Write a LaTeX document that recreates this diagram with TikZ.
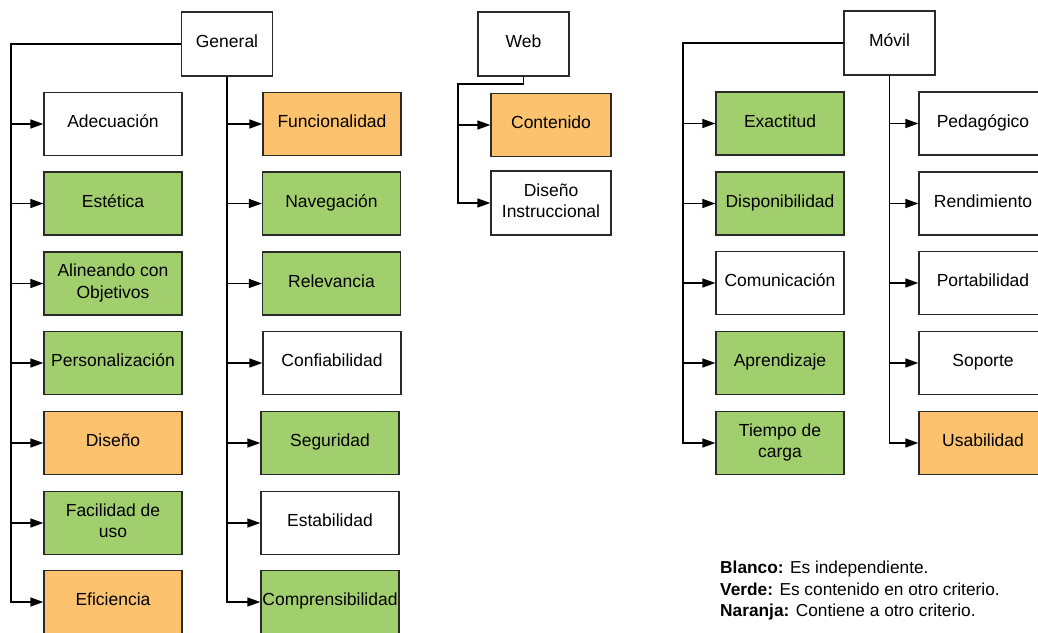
\documentclass[tikz,border=0pt]{standalone}
\usepackage{fontspec}
\setmainfont{Liberation Sans}
\usetikzlibrary{arrows.meta}

\definecolor{boxgreen}{HTML}{A2CF6E}
\definecolor{boxorange}{HTML}{FCC26E}
\definecolor{boxline}{HTML}{2A2A2A}

\tikzset{
  crit/.style={draw=boxline, line width=1.3pt, fill=white, inner sep=0pt,
    align=center, font=\fontsize{17.5}{21.5}\selectfont,
    minimum height=63pt, text depth=5pt},
  wide/.style={crit, minimum width=138pt},
  narrow/.style={crit, minimum width=128pt},
  root/.style={crit, minimum width=91pt, minimum height=64pt},
  green/.style={fill=boxgreen},
  orange/.style={fill=boxorange},
  link/.style={draw=black, line width=1.4pt,
    -{Triangle[length=13pt,width=9pt]}},
}

\begin{document}
\begin{tikzpicture}[x=1pt, y=-1pt]
\useasboundingbox (0,0) rectangle (1038,632);
\clip (0,0) rectangle (1038,632);

% ---------- General ----------
\node[root] (gen) at (227,44) {General};
\coordinate (gL) at (11,44);

\node[wide] (adec) at (113,124) {Adecuación};
\node[wide, green] (este) at (113,203.5) {Estética};
\node[wide, green] (alin) at (113,283.5) {Alineando con\\Objetivos};
\node[wide, green] (pers) at (113,363) {Personalización};
\node[wide, orange] (dise) at (113,443) {Diseño};
\node[wide, green] (faci) at (113,523) {Facilidad de\\uso};
\node[wide, orange] (efic) at (113,602) {Eficiencia};

\node[wide, orange] (func) at (332,124) {Funcionalidad};
\node[wide, green] (nave) at (331.5,203.5) {Navegación};
\node[wide, green] (rele) at (331.5,283.5) {Relevancia};
\node[wide] (conf) at (332,363) {Confiabilidad};
\node[wide, green] (segu) at (330,443) {Seguridad};
\node[wide] (esta) at (330,523) {Estabilidad};
\node[wide, green] (comp) at (330,602) {Comprensibilidad};

\foreach \c in {adec,este,alin,pers,dise,faci,efic}
  \draw[link] (gen.west) -- (gL) |- (\c.west);
\foreach \c in {func,nave,rele,conf,segu,esta,comp}
  \draw[link] (gen.south) |- (\c.west);

% ---------- Web ----------
\node[root] (web) at (523.5,44) {Web};
\coordinate (wA) at (523.5,84);
\coordinate (wB) at (458,84);
\node[crit, minimum width=120pt, orange] (cont) at (551,125) {Contenido};
\node[crit, minimum width=120pt, minimum height=64pt] (dins) at (551,203) {Diseño\\Instruccional};
\foreach \c in {cont,dins}
  \draw[link] (web.south) -- (wA) -- (wB) |- (\c.west);

% ---------- Móvil ----------
\node[root] (mov) at (889.5,43) {Móvil};
\coordinate (mL) at (683,43);

\node[narrow, green] (exac) at (780,123.5) {Exactitud};
\node[narrow, green] (disp) at (780,203.5) {Disponibilidad};
\node[narrow] (comu) at (780,283) {Comunicación};
\node[narrow, green] (apre) at (780,363) {Aprendizaje};
\node[narrow, green] (tiem) at (780,443) {Tiempo de\\carga};

\node[narrow] (peda) at (983,123.5) {Pedagógico};
\node[narrow] (rend) at (983,203.5) {Rendimiento};
\node[narrow] (port) at (983,283) {Portabilidad};
\node[narrow] (sopo) at (983,363) {Soporte};
\node[narrow, orange] (usab) at (983,443) {Usabilidad};

\foreach \c in {exac,disp,comu,apre,tiem}
  \draw[link] (mov.west) -- (mL) |- (\c.west);
\foreach \c in {peda,rend,port,sopo,usab}
  \draw[link] (mov.south) |- (\c.west);

% ---------- Legend ----------
\node[anchor=north west, align=left, inner sep=0pt,
  font=\fontsize{17.3}{21.5}\selectfont] (legend) at (720,561)
  {\textbf{Blanco:} Es independiente.\\
   \textbf{Verde:} Es contenido en otro criterio.\\
   \textbf{Naranja:} Contiene a otro criterio.};
\end{tikzpicture}
\end{document}
